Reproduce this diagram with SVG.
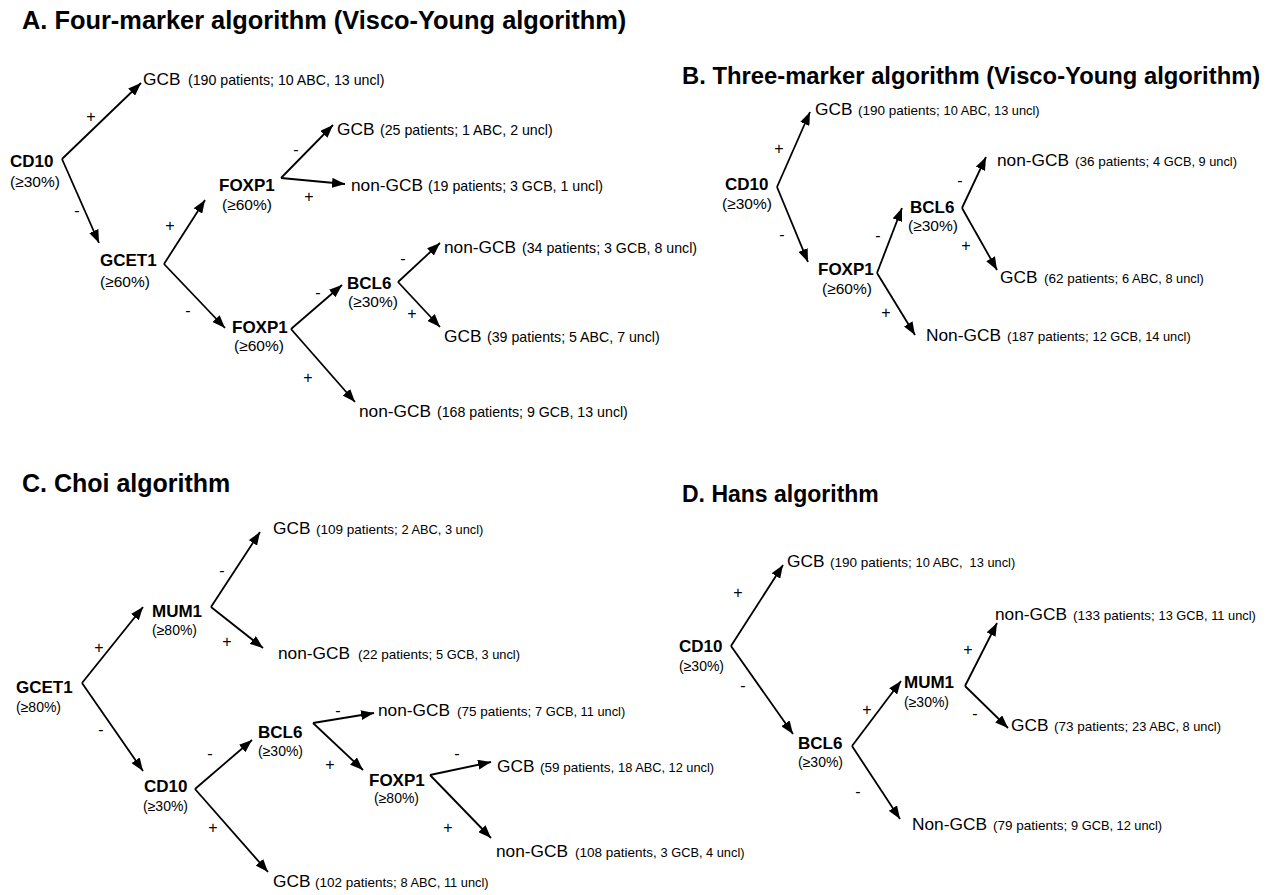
<svg xmlns="http://www.w3.org/2000/svg" width="1279" height="895" viewBox="0 0 1279 895">
  <defs>
    <marker id="ah" markerUnits="userSpaceOnUse" markerWidth="13" markerHeight="10" refX="13" refY="5" orient="auto">
      <path d="M0,0 L13,5 L0,10 z" fill="#000"/>
    </marker>
    <style>
      text { font-family: "Liberation Sans", Arial, Helvetica, sans-serif; fill: #000; }
      .title { font-weight: bold; font-size: 25px; }
      .node { font-weight: bold; font-size: 17px; }
      .thr { font-size: 15.5px; }
      .thr2 { font-size: 14px; }
      .cat { font-size: 17.3px; }
      .sa { font-size: 14.2px; }
      .s1 { font-size: 13.5px; }
      .s2 { font-size: 12.8px; }
      .sign { font-size: 16px; text-anchor: middle; }
      .edge { stroke: #000; stroke-width: 1.8; fill: none; marker-end: url(#ah); }
    </style>
  </defs>
  <rect width="1279" height="895" fill="#fff"/>

  <!-- panel titles -->
  <g id="titles">
    <text class="title" x="22" y="29" style="font-size:25.4px">A. Four-marker algorithm (Visco-Young algorithm)</text>
    <text class="title" x="682" y="84" style="font-size:23.8px">B. Three-marker algorithm (Visco-Young algorithm)</text>
    <text class="title" x="22" y="492">C. Choi algorithm</text>
    <text class="title" x="682" y="502" style="font-size:23px">D. Hans algorithm</text>
  </g>

  <!-- all branch arrows -->
  <g id="connectors">
    <!-- A -->
    <line class="edge" x1="62" y1="159" x2="141" y2="83"/>
    <line class="edge" x1="62" y1="159" x2="99" y2="243"/>
    <line class="edge" x1="164" y1="264" x2="205" y2="200"/>
    <line class="edge" x1="164" y1="264" x2="225" y2="328"/>
    <line class="edge" x1="281" y1="178" x2="333" y2="125"/>
    <line class="edge" x1="281" y1="178" x2="345" y2="184"/>
    <line class="edge" x1="291" y1="329" x2="342" y2="285"/>
    <line class="edge" x1="291" y1="329" x2="355" y2="402"/>
    <line class="edge" x1="398" y1="282" x2="440" y2="243"/>
    <line class="edge" x1="398" y1="282" x2="440" y2="327"/>
    <!-- B -->
    <line class="edge" x1="777" y1="187" x2="810" y2="112"/>
    <line class="edge" x1="777" y1="187" x2="808" y2="262"/>
    <line class="edge" x1="877" y1="273" x2="902" y2="208"/>
    <line class="edge" x1="877" y1="273" x2="915" y2="335"/>
    <line class="edge" x1="962" y1="208" x2="986" y2="157"/>
    <line class="edge" x1="962" y1="208" x2="997" y2="270"/>
    <!-- C -->
    <line class="edge" x1="82" y1="683" x2="143" y2="607"/>
    <line class="edge" x1="82" y1="683" x2="143" y2="771"/>
    <line class="edge" x1="211" y1="607" x2="260" y2="532"/>
    <line class="edge" x1="211" y1="607" x2="263" y2="648"/>
    <line class="edge" x1="195" y1="789" x2="252" y2="740"/>
    <line class="edge" x1="195" y1="789" x2="268" y2="872"/>
    <line class="edge" x1="313" y1="723" x2="374" y2="713"/>
    <line class="edge" x1="313" y1="723" x2="363" y2="770"/>
    <line class="edge" x1="430" y1="775" x2="491" y2="762"/>
    <line class="edge" x1="430" y1="775" x2="491" y2="838"/>
    <!-- D -->
    <line class="edge" x1="731" y1="646" x2="783" y2="565"/>
    <line class="edge" x1="731" y1="646" x2="793" y2="734"/>
    <line class="edge" x1="852" y1="746" x2="901" y2="681"/>
    <line class="edge" x1="852" y1="746" x2="900" y2="819"/>
    <line class="edge" x1="965" y1="686" x2="997" y2="623"/>
    <line class="edge" x1="965" y1="686" x2="1008" y2="728"/>
  </g>

  <!-- branch signs -->
  <g id="signs">
    <text class="sign" x="91" y="122">+</text>
    <text class="sign" x="77" y="216">-</text>
    <text class="sign" x="170" y="231">+</text>
    <text class="sign" x="188" y="316">-</text>
    <text class="sign" x="296" y="155">-</text>
    <text class="sign" x="309" y="202">+</text>
    <text class="sign" x="318" y="298">-</text>
    <text class="sign" x="308" y="383">+</text>
    <text class="sign" x="403" y="264">-</text>
    <text class="sign" x="412" y="319">+</text>

    <text class="sign" x="779" y="154">+</text>
    <text class="sign" x="782" y="240">-</text>
    <text class="sign" x="878" y="241">-</text>
    <text class="sign" x="886" y="318">+</text>
    <text class="sign" x="960" y="186">-</text>
    <text class="sign" x="966" y="251">+</text>

    <text class="sign" x="99" y="653">+</text>
    <text class="sign" x="101" y="735">-</text>
    <text class="sign" x="222" y="576">-</text>
    <text class="sign" x="227" y="647">+</text>
    <text class="sign" x="210" y="759">-</text>
    <text class="sign" x="213" y="833">+</text>
    <text class="sign" x="338" y="716">-</text>
    <text class="sign" x="330" y="770">+</text>
    <text class="sign" x="457" y="759">-</text>
    <text class="sign" x="448" y="833">+</text>

    <text class="sign" x="738" y="598">+</text>
    <text class="sign" x="743" y="691">-</text>
    <text class="sign" x="867" y="715">+</text>
    <text class="sign" x="858" y="797">-</text>
    <text class="sign" x="968" y="655">+</text>
    <text class="sign" x="975" y="719">-</text>
  </g>

  <!-- ===== A. Four-marker algorithm ===== -->
  <g id="a-cd10">
    <text class="node" x="10" y="167">CD10</text>
    <text class="thr" x="10" y="187">(≥30%)</text>
  </g>
  <g id="a-gcb-190">
    <text class="cat" x="143" y="85">GCB<tspan class="sa" x="188">(190 patients; 10 ABC, 13 uncl)</tspan></text>
  </g>
  <g id="a-gcet1">
    <text class="node" x="100" y="266">GCET1</text>
    <text class="thr" x="100" y="287">(≥60%)</text>
  </g>
  <g id="a-foxp1-upper">
    <text class="node" x="219" y="191">FOXP1</text>
    <text class="thr" x="222" y="210">(≥60%)</text>
  </g>
  <g id="a-gcb-25">
    <text class="cat" x="337" y="135">GCB<tspan class="sa" x="380">(25 patients; 1 ABC, 2 uncl)</tspan></text>
  </g>
  <g id="a-nongcb-19">
    <text class="cat" x="351" y="191">non-GCB<tspan class="sa" x="428">(19 patients; 3 GCB, 1 uncl)</tspan></text>
  </g>
  <g id="a-foxp1-lower">
    <text class="node" x="232" y="333">FOXP1</text>
    <text class="thr" x="234" y="351">(≥60%)</text>
  </g>
  <g id="a-bcl6">
    <text class="node" x="347" y="289">BCL6</text>
    <text class="thr" x="348" y="307">(≥30%)</text>
  </g>
  <g id="a-nongcb-34">
    <text class="cat" x="444" y="253">non-GCB<tspan class="sa" x="522">(34 patients; 3 GCB, 8 uncl)</tspan></text>
  </g>
  <g id="a-gcb-39">
    <text class="cat" x="444" y="342">GCB<tspan class="sa" x="487">(39 patients; 5 ABC, 7 uncl)</tspan></text>
  </g>
  <g id="a-nongcb-168">
    <text class="cat" x="359" y="417">non-GCB<tspan class="sa" x="437">(168 patients; 9 GCB, 13 uncl)</tspan></text>
  </g>

  <!-- ===== B. Three-marker algorithm ===== -->
  <g id="b-cd10">
    <text class="node" x="725" y="190">CD10</text>
    <text class="thr" x="722" y="209">(≥30%)</text>
  </g>
  <g id="b-gcb-190">
    <text class="cat" x="815" y="115">GCB<tspan class="s1" x="858">(190 patients; </tspan><tspan class="s2">10 ABC, 13 uncl)</tspan></text>
  </g>
  <g id="b-foxp1">
    <text class="node" x="818" y="275">FOXP1</text>
    <text class="thr" x="822" y="294">(≥60%)</text>
  </g>
  <g id="b-bcl6">
    <text class="node" x="910" y="213">BCL6</text>
    <text class="thr" x="908" y="231">(≥30%)</text>
  </g>
  <g id="b-nongcb-36">
    <text class="cat" x="997" y="166">non-GCB<tspan class="s1" x="1075">(36 patients; </tspan><tspan class="s2">4 GCB, 9 uncl)</tspan></text>
  </g>
  <g id="b-gcb-62">
    <text class="cat" x="1000" y="283">GCB<tspan class="s1" x="1044">(62 patients; </tspan><tspan class="s2">6 ABC, 8 uncl)</tspan></text>
  </g>
  <g id="b-nongcb-187">
    <text class="cat" x="926" y="341">Non-GCB<tspan class="s1" x="1007">(187 patients; </tspan><tspan class="s2">12 GCB, 14 uncl)</tspan></text>
  </g>

  <!-- ===== C. Choi algorithm ===== -->
  <g id="c-gcet1">
    <text class="node" x="16" y="693">GCET1</text>
    <text class="thr2" x="16" y="712">(≥80%)</text>
  </g>
  <g id="c-mum1">
    <text class="node" x="152" y="617">MUM1</text>
    <text class="thr2" x="152" y="635">(≥80%)</text>
  </g>
  <g id="c-gcb-109">
    <text class="cat" x="273" y="534">GCB<tspan class="s1" x="316">(109 patients; </tspan><tspan class="s2">2 ABC, 3 uncl)</tspan></text>
  </g>
  <g id="c-nongcb-22">
    <text class="cat" x="278" y="659">non-GCB<tspan class="s1" x="358">(22 patients; </tspan><tspan class="s2">5 GCB, 3 uncl)</tspan></text>
  </g>
  <g id="c-cd10">
    <text class="node" x="144" y="792">CD10</text>
    <text class="thr2" x="143" y="811">(≥30%)</text>
  </g>
  <g id="c-bcl6">
    <text class="node" x="258" y="738">BCL6</text>
    <text class="thr2" x="258" y="756">(≥30%)</text>
  </g>
  <g id="c-nongcb-75">
    <text class="cat" x="378" y="716">non-GCB<tspan class="s1" x="457">(75 patients; </tspan><tspan class="s2">7 GCB, 11 uncl)</tspan></text>
  </g>
  <g id="c-foxp1">
    <text class="node" x="369" y="786">FOXP1</text>
    <text class="thr2" x="374" y="803">(≥80%)</text>
  </g>
  <g id="c-gcb-59">
    <text class="cat" x="497" y="772">GCB<tspan class="s1" x="540">(59 patients, </tspan><tspan class="s2">18 ABC, 12 uncl)</tspan></text>
  </g>
  <g id="c-nongcb-108">
    <text class="cat" x="496" y="857">non-GCB<tspan class="s1" x="575">(108 patients, </tspan><tspan class="s2">3 GCB, 4 uncl)</tspan></text>
  </g>
  <g id="c-gcb-102">
    <text class="cat" x="273" y="887">GCB<tspan class="s1" x="315">(102 patients; </tspan><tspan class="s2">8 ABC, 11 uncl)</tspan></text>
  </g>

  <!-- ===== D. Hans algorithm ===== -->
  <g id="d-cd10">
    <text class="node" x="679" y="652">CD10</text>
    <text class="thr2" x="679" y="671">(≥30%)</text>
  </g>
  <g id="d-gcb-190">
    <text class="cat" x="787" y="567" xml:space="preserve">GCB<tspan class="s1" x="830">(190 patients; </tspan><tspan class="s2">10 ABC,  13 uncl)</tspan></text>
  </g>
  <g id="d-bcl6">
    <text class="node" x="798" y="749">BCL6</text>
    <text class="thr2" x="798" y="767">(≥30%)</text>
  </g>
  <g id="d-mum1">
    <text class="node" x="904" y="688">MUM1</text>
    <text class="thr2" x="904" y="707">(≥30%)</text>
  </g>
  <g id="d-nongcb-133">
    <text class="cat" x="995" y="620">non-GCB<tspan class="s1" x="1073">(133 patients; </tspan><tspan class="s2">13 GCB, 11 uncl)</tspan></text>
  </g>
  <g id="d-gcb-73">
    <text class="cat" x="1011" y="731">GCB<tspan class="s1" x="1054">(73 patients; </tspan><tspan class="s2">23 ABC, 8 uncl)</tspan></text>
  </g>
  <g id="d-nongcb-79">
    <text class="cat" x="912" y="830">Non-GCB<tspan class="s1" x="993">(79 patients; </tspan><tspan class="s2">9 GCB, 12 uncl)</tspan></text>
  </g>
</svg>
